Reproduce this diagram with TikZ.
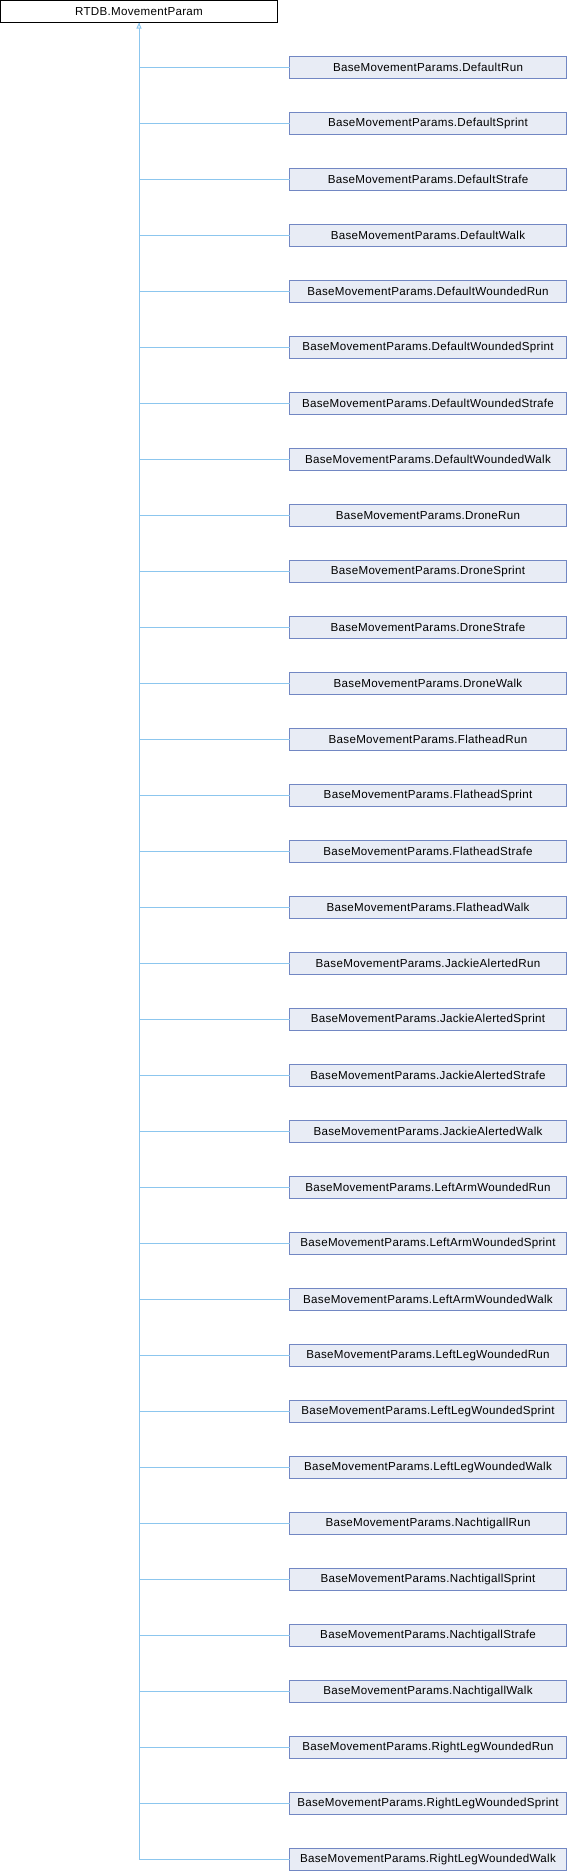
\documentclass[tikz,border=0pt]{standalone}
\usepackage{fontspec}
\setmainfont{Liberation Sans}[LetterSpace=2.5]
\usetikzlibrary{arrows.meta}
\definecolor{edgeblue}{HTML}{8CC6EE}
\definecolor{boxborder}{HTML}{7287C3}
\definecolor{boxfill}{HTML}{E8ECF5}
\begin{document}
\begin{tikzpicture}[x=1pt,y=-1pt,
  rootbox/.style={draw=black, fill=white, line width=1pt, minimum width=277pt, minimum height=22pt, inner sep=0pt, outer sep=0pt, font=\fontsize{11.6}{13}\selectfont},
  childbox/.style={draw=boxborder, fill=boxfill, line width=1pt, minimum width=277pt, minimum height=22pt, inner sep=0pt, outer sep=0pt, font=\fontsize{11.6}{13}\selectfont},
  edge/.style={draw=edgeblue, line width=1pt},
  inh/.style={edge, -{Triangle[open, length=6pt, width=5pt, fill=white]}}
]
\useasboundingbox (0,0) rectangle (568,1872);
\node[rootbox] (root) at (139,11.5) {RTDB.MovementParam};
\foreach \nm [count=\i from 0] in {DefaultRun, DefaultSprint, DefaultStrafe, DefaultWalk, DefaultWoundedRun, DefaultWoundedSprint, DefaultWoundedStrafe, DefaultWoundedWalk, DroneRun, DroneSprint, DroneStrafe, DroneWalk, FlatheadRun, FlatheadSprint, FlatheadStrafe, FlatheadWalk, JackieAlertedRun, JackieAlertedSprint, JackieAlertedStrafe, JackieAlertedWalk, LeftArmWoundedRun, LeftArmWoundedSprint, LeftArmWoundedWalk, LeftLegWoundedRun, LeftLegWoundedSprint, LeftLegWoundedWalk, NachtigallRun, NachtigallSprint, NachtigallStrafe, NachtigallWalk, RightLegWoundedRun, RightLegWoundedSprint, RightLegWoundedWalk}{
  \node[childbox] (c\i) at (428,67.5+56*\i) {BaseMovementParams.\nm};
  \draw[edge] (c\i.west) -| (root.south);
}
\draw[inh] (c32.west) -| (root.south);
\end{tikzpicture}
\end{document}
